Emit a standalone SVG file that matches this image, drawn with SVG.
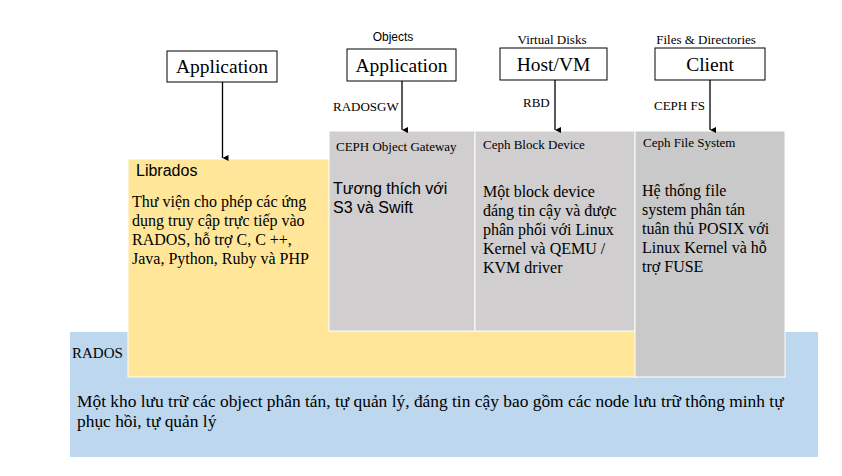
<svg xmlns="http://www.w3.org/2000/svg" width="842" height="476" viewBox="0 0 842 476">
<defs>
<marker id="ah" markerWidth="8" markerHeight="8" refX="4" refY="6" orient="auto" markerUnits="userSpaceOnUse" viewBox="0 0 8 8">
<path d="M1,0 L7,0 L4,6 Z" fill="#000"/>
</marker>
</defs>
<style>
.serif{font-family:"Liberation Serif","Times New Roman",serif;fill:#000}
.sans{font-family:"Liberation Sans",Arial,sans-serif;fill:#000}
.box{fill:#fff;stroke:#000;stroke-width:1}
.title{font-size:19.5px;text-anchor:middle}
.small{font-size:13px}
.tiny{font-size:13px;text-anchor:middle}
.body{font-size:16px}
.conn{stroke:#000;stroke-width:1.3;fill:none;marker-end:url(#ah)}
</style>
<rect width="842" height="476" fill="#fff"/>

<g id="rados">
<rect x="70" y="332" width="748" height="125" fill="#bdd7ee"/>
<text class="serif" x="72" y="358" font-size="15">RADOS</text>
<text class="serif" x="77" y="407" font-size="17.4">Một kho lưu trữ các object phân tán, tự quản lý, đáng tin cậy bao gồm các node lưu trữ thông minh tự</text>
<text class="serif" x="77" y="427" font-size="17.4">phục hồi, tự quản lý</text>
</g>

<g id="librados">
<rect x="128" y="159" width="509" height="218" fill="#ffe699" stroke="#fff" stroke-width="1"/>
<text class="sans" x="136" y="176" font-size="16">Librados</text>
<text class="serif body" x="132" y="207">Thư viện cho phép các ứng</text>
<text class="serif body" x="132" y="226">dụng truy cập trực tiếp vào</text>
<text class="serif body" x="132" y="245">RADOS, hỗ trợ C, C ++,</text>
<text class="serif body" x="132" y="264">Java, Python, Ruby và PHP</text>
</g>

<g id="object-gateway">
<rect x="329" y="131" width="146" height="200" fill="#d0cece" stroke="#fff" stroke-width="1"/>
<text class="serif small" x="336" y="151">CEPH Object Gateway</text>
<text class="sans body" x="333" y="194">Tương thích với</text>
<text class="sans body" x="333" y="213">S3 và Swift</text>
</g>

<g id="block-device">
<rect x="475" y="131" width="160" height="200" fill="#d0cece" stroke="#fff" stroke-width="1"/>
<text class="serif small" x="483" y="149">Ceph Block Device</text>
<text class="serif body" x="483" y="197">Một block device</text>
<text class="serif body" x="483" y="216">đáng tin cậy và được</text>
<text class="serif body" x="483" y="235">phân phối với Linux</text>
<text class="serif body" x="483" y="254">Kernel và QEMU /</text>
<text class="serif body" x="483" y="273">KVM driver</text>
</g>

<g id="file-system">
<rect x="635" y="131" width="150" height="246" fill="#c9c9c9" stroke="#fff" stroke-width="1"/>
<text class="serif small" x="643" y="147">Ceph File System</text>
<text class="serif body" x="642" y="196">Hệ thống file</text>
<text class="serif body" x="642" y="215">system phân tán</text>
<text class="serif body" x="642" y="234">tuân thủ POSIX với</text>
<text class="serif body" x="642" y="253">Linux Kernel và hỗ</text>
<text class="serif body" x="642" y="272">trợ FUSE</text>
</g>

<g id="app1">
<rect class="box" x="167" y="51" width="110" height="31"/>
<text class="serif title" x="222" y="73">Application</text>
</g>

<g id="app2">
<text class="sans" x="393" y="41" font-size="12" text-anchor="middle">Objects</text>
<rect class="box" x="347" y="49" width="109" height="32"/>
<text class="serif title" x="401.5" y="72">Application</text>
</g>

<g id="hostvm">
<text class="serif tiny" x="552" y="44">Virtual Disks</text>
<rect class="box" x="500" y="48" width="107" height="32"/>
<text class="serif title" x="553.5" y="71">Host/VM</text>
</g>

<g id="client">
<text class="serif tiny" x="706" y="44">Files &amp; Directories</text>
<rect class="box" x="655" y="48" width="110" height="32"/>
<text class="serif title" x="710" y="71">Client</text>
</g>

<g id="connectors">
<line class="conn" x1="222.5" y1="82" x2="222.5" y2="158"/>
<line class="conn" x1="402" y1="81" x2="402" y2="130"/>
<line class="conn" x1="555" y1="80" x2="555" y2="130"/>
<line class="conn" x1="710" y1="80" x2="710" y2="130"/>
<text class="serif small" x="333" y="111">RADOSGW</text>
<text class="serif small" x="523" y="107">RBD</text>
<text class="serif small" x="654" y="110">CEPH FS</text>
</g>
</svg>
